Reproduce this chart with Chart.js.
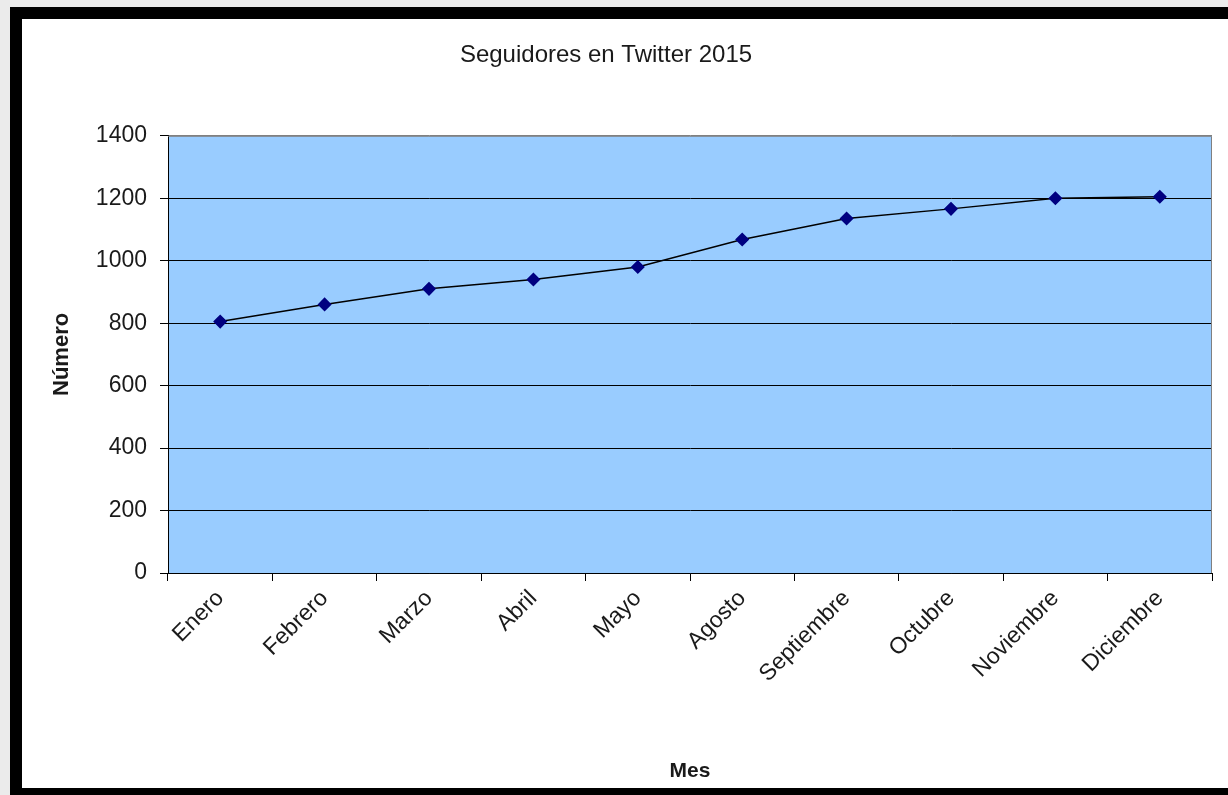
<!DOCTYPE html>
<html>
<head>
<meta charset="utf-8">
<title>Seguidores en Twitter 2015</title>
<script src="https://cdn.jsdelivr.net/npm/chart.js@4.4.0/dist/chart.umd.min.js"></script>
<style>
  html, body { margin: 0; padding: 0; background: #ebebeb; overflow: hidden; }
  #frame {
    position: absolute; left: 10px; top: 7px;
    width: 1206px; height: 769px;
    border: 12px solid #000; border-right: 0;
    background: #fff;
  }
  #chart { position: absolute; left: 0; top: 0; }
</style>
</head>
<body>
<div id="frame"></div>
<canvas id="chart" width="1228" height="795"></canvas>
<script>
// data
const months = ['Enero', 'Febrero', 'Marzo', 'Abril', 'Mayo', 'Agosto',
  'Septiembre', 'Octubre', 'Noviembre', 'Diciembre'];
const followers = [805, 860, 910, 940, 980, 1068, 1135, 1166, 1200, 1205];
const yTicks = [0, 200, 400, 600, 800, 1000, 1200, 1400];

const textColor = '#1a1a1a';

// blue plot area with a grey frame on top and right
const plotArea = {
  id: 'plotArea',
  beforeDraw(chart) {
    const { ctx, chartArea: a } = chart;
    ctx.save();
    ctx.fillStyle = '#99ccff';
    ctx.fillRect(a.left, a.top, a.right - a.left, a.bottom - a.top);
    ctx.restore();
  },
  beforeDatasetsDraw(chart) {
    const { ctx, chartArea: a } = chart;
    ctx.save();
    ctx.strokeStyle = '#808080';
    ctx.lineWidth = 1;
    ctx.beginPath();
    ctx.moveTo(a.left, a.top + 0.5);
    ctx.lineTo(a.right - 0.5, a.top + 0.5);
    ctx.lineTo(a.right - 0.5, a.bottom);
    ctx.stroke();
    ctx.restore();
  }
};

new Chart(document.getElementById('chart'), {
  type: 'line',
  data: {
    labels: months,
    datasets: [{
      label: 'Seguidores',
      data: followers,
      borderColor: '#000',
      borderWidth: 1.5,
      tension: 0,
      pointStyle: 'rectRot',
      pointRadius: 6,
      pointBackgroundColor: '#000080',
      pointBorderColor: '#000080'
    }]
  },
  options: {
    responsive: false,
    animation: false,
    devicePixelRatio: 1,
    layout: { padding: { left: 0, right: 16, top: 0, bottom: 0 } },
    plugins: {
      legend: { display: false },
      tooltip: { enabled: false },
      title: {
        display: true,
        text: 'Seguidores en Twitter 2015',
        color: textColor,
        font: { family: 'Liberation Sans, Arial, sans-serif', size: 24, weight: 'normal' },
        padding: { top: 41, bottom: 66 }
      }
    },
    scales: {
      x: {
        type: 'category',
        offset: true,
        grid: { offset: true, drawOnChartArea: false, tickLength: 8, color: '#000' },
        border: { color: '#000', width: 1 },
        ticks: {
          autoSkip: false, maxRotation: 45, minRotation: 45, padding: 4,
          color: textColor,
          font: { family: 'Liberation Sans, Arial, sans-serif', size: 23 }
        },
        title: {
          display: true, text: 'Mes', color: textColor,
          font: { family: 'Liberation Sans, Arial, sans-serif', size: 21, weight: 'bold' },
          padding: { top: 0, bottom: 11 }
        },
        afterFit(scale) { scale.height = 222; }
      },
      y: {
        min: 0,
        max: 1400,
        afterBuildTicks(scale) { scale.ticks = yTicks.map(v => ({ value: v })); },
        grid: {
          color: c => (c.tick && c.tick.value === 1400 ? '#808080' : '#000'),
          tickColor: '#000',
          tickLength: 8
        },
        border: { color: '#000', width: 1 },
        ticks: {
          padding: 13, color: textColor,
          callback: v => String(v),
          font: { family: 'Liberation Sans, Arial, sans-serif', size: 23 }
        },
        title: {
          display: true, text: 'Número', color: textColor,
          font: { family: 'Liberation Sans, Arial, sans-serif', size: 22, weight: 'bold' },
          padding: { top: 49, bottom: 0 }
        },
        afterFit(scale) { scale.width = 168; }
      }
    }
  },
  plugins: [plotArea]
});
</script>
</body>
</html>
